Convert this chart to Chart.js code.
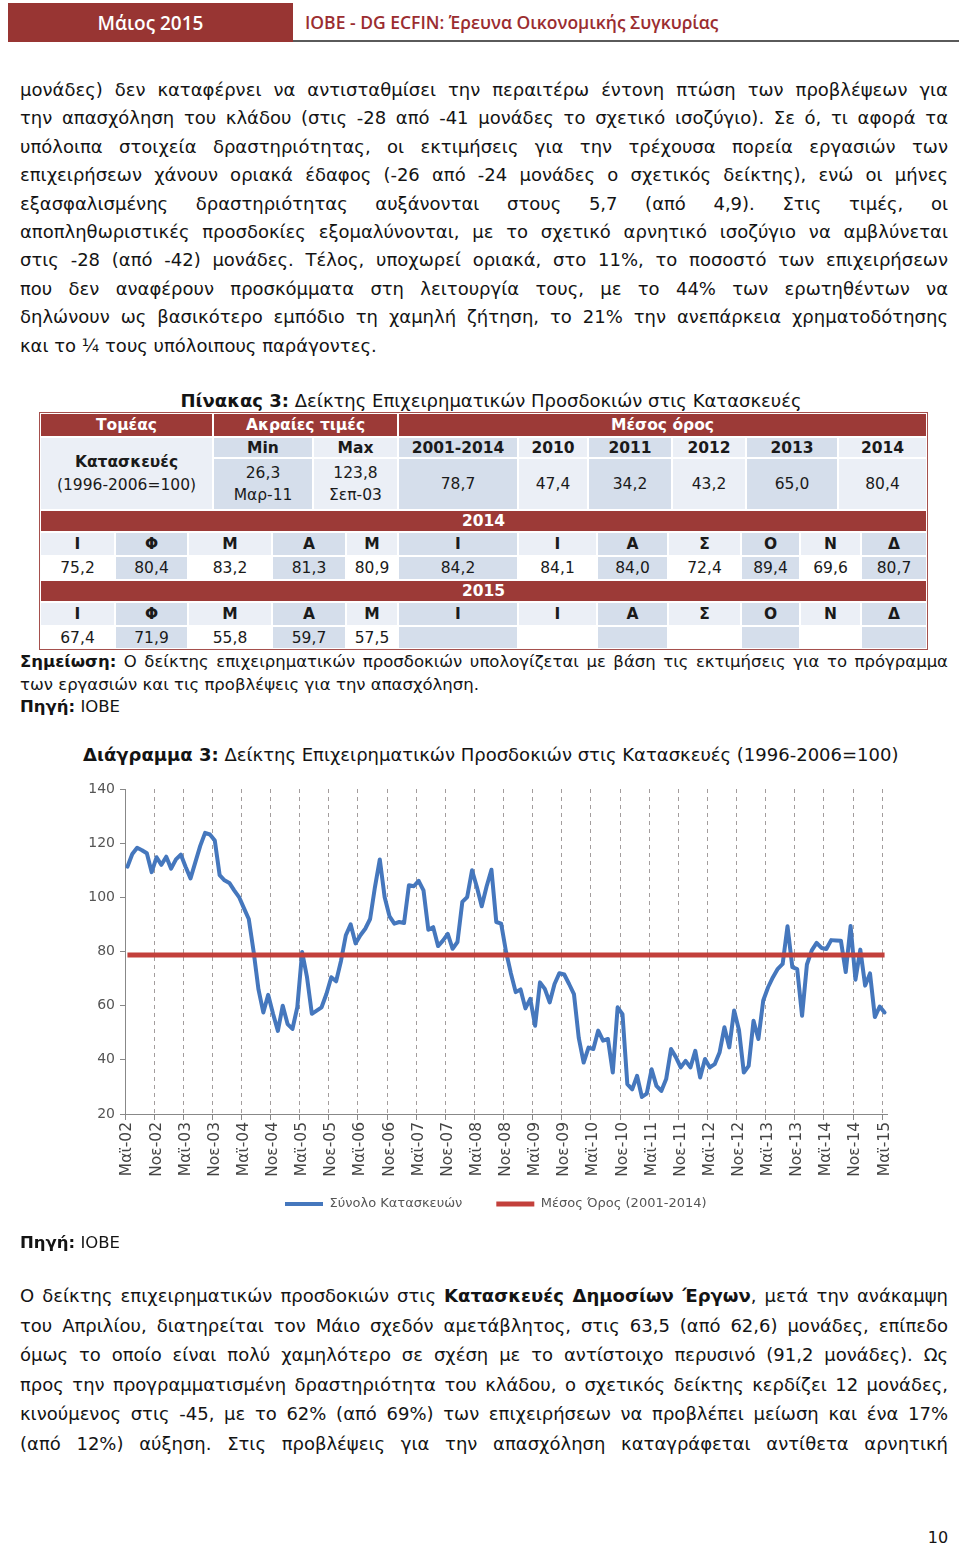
<!DOCTYPE html>
<html><head><meta charset="utf-8">
<script src="https://cdn.jsdelivr.net/npm/chart.js@4.4.0/dist/chart.umd.min.js"></script>
<style>
html,body{margin:0;padding:0;background:#fff;}
body{width:960px;height:1548px;position:relative;overflow:hidden;font-family:'DejaVu Sans',sans-serif;color:#141414;}
.abs{position:absolute;}
.hdr-box{left:8px;top:3px;width:285px;height:39px;background:#983533;color:#fff;font-family:'Open Sans';font-weight:600;font-size:19px;display:flex;align-items:center;justify-content:center;}
.hdr-txt{left:305px;top:3px;height:39px;line-height:39px;color:#9b2d30;font-family:'Open Sans';font-weight:600;font-size:17.5px;}
.hdr-line{left:293px;top:40px;width:666px;height:2px;background:#5a5a5a;}
.para{left:20px;width:928px;font-size:18px;}
.para div{text-align:justify;text-align-last:justify;height:28.4px;line-height:28.4px;}
.para div.last{text-align:left;text-align-last:left;}
.para2 div{height:29.6px;line-height:29.6px;}
.note{left:20px;width:928px;font-size:16.5px;}
.note div{height:22.5px;line-height:22.5px;text-align:justify;text-align-last:justify;}
.note div.last{text-align-last:left;}
.cell{position:absolute;box-sizing:border-box;border:1px solid #fff;display:flex;flex-direction:column;align-items:center;justify-content:center;font-size:15.5px;line-height:22px;color:#1a1a1a;}
.cell.red{color:#fff;font-weight:bold;}
.cell.b{font-weight:bold;}
</style>
</head><body>
<div class="abs hdr-box">Μάιος 2015</div>
<div class="abs hdr-txt">ΙΟΒΕ - DG ECFIN: Έρευνα Οικονομικής Συγκυρίας</div>
<div class="abs hdr-line"></div>

<div class="abs para" style="top:76px;">
<div>μονάδες) δεν καταφέρνει να αντισταθμίσει την περαιτέρω έντονη πτώση των προβλέψεων για</div>
<div>την απασχόληση του κλάδου (στις -28 από -41 μονάδες το σχετικό ισοζύγιο). Σε ό, τι αφορά τα</div>
<div>υπόλοιπα στοιχεία δραστηριότητας, οι εκτιμήσεις για την τρέχουσα πορεία εργασιών των</div>
<div>επιχειρήσεων χάνουν οριακά έδαφος (-26 από -24 μονάδες ο σχετικός δείκτης), ενώ οι μήνες</div>
<div>εξασφαλισμένης δραστηριότητας αυξάνονται στους 5,7 (από 4,9). Στις τιμές, οι</div>
<div>αποπληθωριστικές προσδοκίες εξομαλύνονται, με το σχετικό αρνητικό ισοζύγιο να αμβλύνεται</div>
<div>στις -28 (από -42) μονάδες. Τέλος, υποχωρεί οριακά, στο 11%, το ποσοστό των επιχειρήσεων</div>
<div>που δεν αναφέρουν προσκόμματα στη λειτουργία τους, με το 44% των ερωτηθέντων να</div>
<div>δηλώνουν ως βασικότερο εμπόδιο τη χαμηλή ζήτηση, το 21% την ανεπάρκεια χρηματοδότησης</div>
<div class="last">και το ¼ τους υπόλοιπους παράγοντες.</div>
</div>

<div class="abs" style="left:0;width:982px;top:389px;height:24px;line-height:24px;text-align:center;font-size:18px;"><b>Πίνακας 3:</b> Δείκτης Επιχειρηματικών Προσδοκιών στις Κατασκευές</div>
<div id="tbl" class="abs" style="left:0;top:0;width:960px;height:700px;"></div>

<div class="abs note" style="top:651px;">
<div><b>Σημείωση:</b> Ο δείκτης επιχειρηματικών προσδοκιών υπολογίζεται με βάση τις εκτιμήσεις για το πρόγραμμα</div>
<div class="last">των εργασιών και τις προβλέψεις για την απασχόληση.</div>
<div class="last"><b>Πηγή:</b> ΙΟΒΕ</div>
</div>

<div class="abs" style="left:83px;top:743px;height:24px;line-height:24px;font-size:18px;white-space:nowrap;"><b>Διάγραμμα 3:</b> Δείκτης Επιχειρηματικών Προσδοκιών στις Κατασκευές (1996-2006=100)</div>

<canvas id="c" class="abs" width="870" height="470" style="left:40px;top:770px;width:870px;height:470px;"></canvas>

<div class="abs" style="left:20px;top:1231px;height:24px;line-height:24px;font-size:16.5px;"><b>Πηγή:</b> ΙΟΒΕ</div>

<div class="abs para para2" style="top:1281px;">
<div>Ο δείκτης επιχειρηματικών προσδοκιών στις <b>Κατασκευές Δημοσίων Έργων</b>, μετά την ανάκαμψη</div>
<div>του Απριλίου, διατηρείται τον Μάιο σχεδόν αμετάβλητος, στις 63,5 (από 62,6) μονάδες, επίπεδο</div>
<div>όμως το οποίο είναι πολύ χαμηλότερο σε σχέση με το αντίστοιχο περυσινό (91,2 μονάδες). Ως</div>
<div>προς την προγραμματισμένη δραστηριότητα του κλάδου, ο σχετικός δείκτης κερδίζει 12 μονάδες,</div>
<div>κινούμενος στις -45, με το 62% (από 69%) των επιχειρήσεων να προβλέπει μείωση και ένα 17%</div>
<div>(από 12%) αύξηση. Στις προβλέψεις για την απασχόληση καταγράφεται αντίθετα αρνητική</div>
</div>

<div class="abs" style="left:920px;top:1526px;width:36px;height:24px;line-height:24px;text-align:center;font-size:16px;">10</div>

<script>
// ---------- DATA ----------
const monthNames = ['Ιαν','Φεβ','Μαρ','Απρ','Μαϊ','Ιουν','Ιουλ','Αυγ','Σεπ','Οκτ','Νοε','Δεκ'];
const startYear = 2002, startMonth = 4; // May 2002 (index into monthNames)
// Σύνολο Κατασκευών, monthly values by year
const v2002 = [111.3,116.0,118.3,117.4,116.3,109.3,114.8,112.0];
const v2003 = [115.0,110.6,114.0,115.8,111.2,107.0,113.0,119.0,123.8,123.2,121.0,108.2];
const v2004 = [106.3,105.3,102.6,100.1,96.0,92.0,80.0,66.0,57.5,64.0,57.0,50.7];
const v2005 = [60.0,53.2,51.4,59.4,79.8,70.5,57.0,58.2,59.4,64.3,70.5,69.0];
const v2006 = [76.5,86.0,90.0,83.0,86.0,88.4,92.0,103.8,114.0,100.0,93.0,90.3];
const v2007 = [90.9,90.5,104.5,104.1,106.1,102.6,88.0,89.0,82.0,84.0,86.5,81.0];
const v2008 = [83.5,98.3,100.1,110.0,103.8,96.7,104.0,110.2,90.9,90.3,80.0,72.0];
const v2009 = [65.0,66.0,59.0,62.5,52.6,68.6,66.2,61.2,68.0,72.0,71.5,68.0];
const v2010 = [64.3,48.0,39.0,44.5,44.0,50.8,47.1,47.7,35.3,59.4,56.9,31.0];
const v2011 = [29.1,34.1,26.3,27.5,36.5,30.4,28.5,32.9,44.0,41.0,37.2,39.6];
const v2012 = [37.2,43.3,33.5,40.3,37.2,38.4,42.7,52.0,44.6,58.2,51.0,35.3];
const v2013 = [37.8,54.4,47.7,61.9,66.8,70.5,73.6,75.4,89.3,74.2,73.5,56.3];
const v2014 = [75.2,80.4,83.2,81.3,80.9,84.2,84.1,84.0,72.4,89.4,69.6,80.7];
const v2015 = [67.4,71.9,55.8,59.7,57.5];
const avg2001_2014 = 78.7;
const yTicks = {min:20, max:140, step:20};
const labelEvery = 6;
const seriesNames = ['Σύνολο Κατασκευών','Μέσος Όρος (2001-2014)'];

// Table data
const tblAvgYears = ['2001-2014','2010','2011','2012','2013','2014'];
const tblAvgVals  = ['78,7','47,4','34,2','43,2','65,0','80,4'];
const tblMonths   = ['Ι','Φ','Μ','Α','Μ','Ι','Ι','Α','Σ','Ο','Ν','Δ'];
const tbl2014     = ['75,2','80,4','83,2','81,3','80,9','84,2','84,1','84,0','72,4','89,4','69,6','80,7'];
const tbl2015     = ['67,4','71,9','55,8','59,7','57,5','','','','','','',''];

// ---------- BUILD ----------
const totalSeries = [].concat(v2002,v2003,v2004,v2005,v2006,v2007,v2008,v2009,v2010,v2011,v2012,v2013,v2014,v2015);
const labels = totalSeries.map((_, i) => {
  const m = startMonth + i;
  const y = startYear + Math.floor(m / 12);
  return monthNames[m % 12] + '-' + String(y).slice(2);
});
const avgSeries = labels.map(() => avg2001_2014);

// Table
const RED='#9C3A37', DK='#D5DEEB', LT='#EBEFF6', WH='#FFFFFF';
const tbl = document.getElementById('tbl');
function cell(x1,y1,x2,y2,bg,content,cls){
  const d=document.createElement('div');
  d.className='cell'+(cls?' '+cls:'');
  d.style.left=x1+'px'; d.style.top=y1+'px';
  d.style.width=(x2-x1)+'px'; d.style.height=(y2-y1)+'px';
  d.style.background=bg;
  d.innerHTML=content;
  tbl.appendChild(d);
}
cell(40,413,213,437,RED,'Τομέας','red');
cell(213,413,398,437,RED,'Ακραίες τιμές','red');
cell(398,413,927,437,RED,'Μέσος όρος','red');
cell(40,437,213,510,LT,'<b style="line-height:23px">Κατασκευές</b><span style="line-height:23px">(1996-2006=100)</span>');
cell(213,437,313,458,DK,'Min','b');
cell(313,437,398,458,LT,'Max','b');
cell(213,458,313,510,DK,'<span>26,3</span><span>Μαρ-11</span>');
cell(313,458,398,510,LT,'<span>123,8</span><span>Σεπ-03</span>');
const avgCols=[398,518,588,672,746,838,927];
tblAvgYears.forEach((t,i)=>{
  const bg = i%2===0?DK:LT;
  cell(avgCols[i],437,avgCols[i+1],458,bg,t,'b');
  cell(avgCols[i],458,avgCols[i+1],510,bg,tblAvgVals[i]);
});
cell(40,510,927,532,RED,'2014','red');
cell(40,580,927,602,RED,'2015','red');
const mCols=[40,115,188,272,346,398,518,597,668,741,800,861,927];
tblMonths.forEach((t,i)=>{
  cell(mCols[i],532,mCols[i+1],556,i%2?DK:LT,t,'b');
  cell(mCols[i],556,mCols[i+1],580,i%2?DK:WH,tbl2014[i]);
  cell(mCols[i],602,mCols[i+1],626,i%2?DK:LT,t,'b');
  cell(mCols[i],626,mCols[i+1],649,i%2?DK:WH,tbl2015[i]);
});
const frame=document.createElement('div');
frame.style.cssText='position:absolute;left:39px;top:412px;width:889px;height:238px;box-sizing:border-box;border:1.5px solid #a5504d;';
tbl.appendChild(frame);

// Chart
Chart.defaults.font.family = "'DejaVu Sans', sans-serif";
const legendPlace = {
  id:'legendPlace',
  afterLayout(chart){
    const lg = chart.legend;
    if(!lg || !lg.lineWidths) return;
    const pad = lg.options.labels.padding;
    const fs = lg.options.labels.font.size;
    const cx = (lg.left + pad + lg.right - lg.lineWidths[0]) / 2;
    const dx = 245 - cx;
    lg.left += dx; lg.right += dx;
    const dy = (434 - pad - fs / 2) - lg.top;
    lg.top += dy; lg.bottom += dy;
  }
};
const showTick = (i) => i % labelEvery === 0;
new Chart(document.getElementById('c'), {
  type:'line',
  data:{
    labels: labels,
    datasets:[
      {label:seriesNames[0], data:totalSeries, borderColor:'#4577BD', backgroundColor:'#4577BD', borderWidth:4, pointRadius:0, tension:0, order:1, borderJoinStyle:'round', borderCapStyle:'round', pointStyle:'line'},
      {label:seriesNames[1], data:avgSeries, borderColor:'#C3403B', backgroundColor:'#C3403B', borderWidth:5, pointRadius:0, tension:0, order:0, pointStyle:'line'}
    ]
  },
  options:{
    responsive:false, animation:false, devicePixelRatio:1,
    layout:{padding:{left:0,right:23,top:19,bottom:3}},
    plugins:{
      legend:{position:'bottom', reverse:true,
        labels:{usePointStyle:true, pointStyleWidth:38, padding:34, color:'#555', font:{size:13}}},
      tooltip:{enabled:false}
    },
    scales:{
      x:{
        type:'category', offset:true,
        afterFit(s){ s.height = 66; },
        grid:{offset:true, drawOnChartArea:true, drawTicks:true, tickLength:6,
          color:(c)=> (showTick(c.index) ? '#a39d9d' : 'rgba(0,0,0,0)'),
          tickColor:(c)=> (showTick(c.index) ? '#888' : 'rgba(0,0,0,0)'),
          lineWidth:(c)=> (showTick(c.index) ? 1 : 0),
          tickWidth:(c)=> (showTick(c.index) ? 1 : 0),
          tickBorderDash:[]},
        border:{display:true, color:'#888', width:1, dash:[4,4]},
        ticks:{autoSkip:false, maxRotation:90, minRotation:90, padding:2, color:'#444', font:{size:15.5},
          callback:function(val, idx){ return showTick(idx) ? this.getLabelForValue(val) : ''; }}
      },
      y:{
        min:yTicks.min, max:yTicks.max,
        afterFit(s){ s.width = 85; },
        grid:{drawOnChartArea:false, drawTicks:true, tickLength:5, color:'#888'},
        border:{display:true, color:'#888', width:1},
        ticks:{stepSize:yTicks.step, color:'#555', font:{size:14}, padding:5}
      }
    }
  },
  plugins:[legendPlace]
});
</script>
</body></html>
